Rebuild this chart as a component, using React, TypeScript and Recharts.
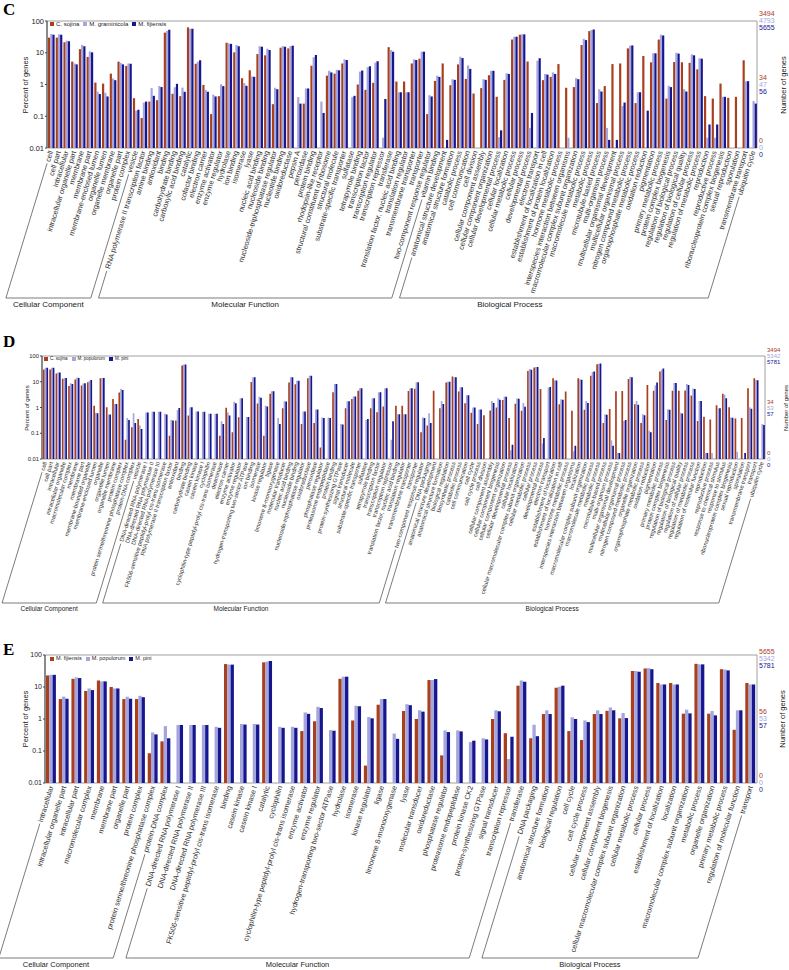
import { Bar, BarChart, ReferenceArea, XAxis, YAxis } from 'recharts';

const RED = '#A8401E';
const LAVENDER = '#A6A6DE';
const NAVY = '#16168F';
const SERIES_COLORS = [RED, LAVENDER, NAVY];
const LABEL_FONT = '"Liberation Sans", Arial, sans-serif';
const ANGLE = (73 * Math.PI) / 180;

const PERCENT_TICKS = [0.01, 0.1, 1, 10, 100];
const GROUP_NAMES = ['Cellular Component', 'Molecular Function', 'Biological Process'];

// ---- panel C ----
const C_SERIES = ['C. sojina', 'M. graminicola', 'M. fijiensis'];
const C_TOTALS = [3494, 4793, 5655];
const C_GROUP_SIZES = [12, 39, 41];
const C_CATEGORIES = [
  'cell', 'cell part', 'intracellular', 'intracellular organelle part', 'membrane', 'membrane part',
  'membrane-enclosed lumen', 'organelle lumen', 'organelle membrane', 'organelle part', 'protein complex', 'vesicle',
  'RNA polymerase II transcription factor', 'amine binding', 'antioxidant', 'binding', 'carbohydrate binding',
  'carboxylic acid binding', 'catalytic', 'cofactor binding', 'electron carrier', 'enzyme activator',
  'enzyme regulator', 'hydrolase', 'ion binding', 'isomerase', 'lyase', 'nucleic acid binding', 'nucleoside binding',
  'nucleoside-triphosphatase regulator', 'nucleotide binding', 'oxidoreductase', 'pepsin A', 'peroxidase',
  'protein binding', 'rhodopsin-like receptor', 'structural constituent of ribosome', 'structural molecule',
  'substrate-specific transporter', 'sulfatase', 'tetrapyrrole binding', 'transcription factor',
  'transcription regulator', 'transcription repressor', 'transferase', 'translation factor, nucleic acid binding',
  'translation regulator', 'transmembrane transporter', 'transporter', 'two-component response regulator',
  'vitamin binding',
  'anatomical structure development', 'anatomical structure formation', 'catabolic process', 'cell communication',
  'cell division', 'cellular component assembly', 'cellular component organization', 'cellular developmental process',
  'cellular localization', 'cellular metabolic process', 'cellular process', 'developmental process',
  'electron transport', 'establishment of localization in cell', 'establishment of protein localization',
  'hormone metabolic process', 'interspecies interaction between organisms',
  'macromolecular complex subunit organization', 'macromolecule metabolic process', 'metabolic process',
  'microtubule-based process', 'multi-organism process', 'multicellular organismal development',
  'multicellular organismal process', 'nitrogen compound metabolic process', 'organophosphate metabolic process',
  'oxidation reduction', 'pigmentation', 'primary metabolic process', 'protein complex biogenesis',
  'regulation of biological process', 'regulation of biological quality', 'regulation of cellular process',
  'regulation of metabolic process', 'reproduction', 'reproductive process', 'ribonucleoprotein complex biogenesis',
  'sexual reproduction', 'sporulation', 'transmembrane transport', 'ubiquitin cycle',
];
const C_SOJINA = [
  30, 30, 21.6, 5.25, 13, 7.4, 1.15, 1.07, 2.2, 5.25, 3.85, 0.37,
  0.088, 0.29, 0.32, 43, 0.51, 0.43, 63, 4.5, 0.97, 0.117, 0.43, 20.7, 10.3, 1.58, 2.8, 9.1, 8.3, 0.24,
  14.4, 13.7, 0, 0.25, 3.9, 0, 1.9, 2.2, 4.6, 0, 1.0, 0.68, 1.13, 0, 15, 1.24, 1.24, 4.6, 6.5, 0.117, 1.3,
  4.6, 0.95, 4.3, 1.5, 0.52, 0.77, 1.96, 0.41, 1.4, 26, 37, 5.3, 0, 1.37, 1.74, 4.4, 0.79, 0.83, 17.5, 48,
  0.26, 0.89, 4.4, 4.6, 13.7, 0.26, 7.9, 5, 26, 0.36, 5.1, 5, 4.8, 3, 0.43, 0.36, 1.07, 0.38, 0.41, 5.8, 0,
];
const C_GRAMINICOLA = [
  39, 38, 24, 4.6, 17.5, 11, 0.6, 0.55, 1.55, 4.8, 4.6, 0.15,
  0.27, 0.77, 0.9, 49, 0.82, 0.8, 57, 5.2, 0.68, 0.48, 1.02, 19.7, 17.5, 1.1, 1.8, 16, 13.4, 0.79,
  16.2, 16.2, 0.4, 0.75, 7.2, 0.29, 2.7, 2.9, 6.2, 0.4, 2.55, 3.5, 4.9, 0.021, 12.2, 0.57, 0.57, 6.2, 10.8, 0.46, 1.9,
  0, 1.47, 7.5, 4, 0, 1.47, 2.7, 0.022, 2.26, 32, 38, 0.043, 5.6, 2.15, 2.4, 0, 0.021, 1.58, 27.6, 52,
  0.71, 0.043, 0, 0.21, 16.7, 0.57, 0, 9.6, 37, 0.91, 10, 0.71, 8.9, 6.7, 0.021, 0.021, 0.41, 0, 0, 1.27, 0.3,
];
const C_FIJIENSIS = [
  37, 37, 23, 4.3, 16, 10.3, 0.5, 0.42, 1.37, 4.3, 4.5, 0.16,
  0.29, 0.44, 0.83, 53, 1.05, 0.59, 57, 5.8, 0.59, 0.42, 0.89, 19, 16, 0.91, 1.75, 15.5, 12.2, 0.71,
  15.5, 16.7, 0.25, 0.75, 8.5, 0.127, 2.4, 2.8, 5.9, 0.44, 2.75, 3.75, 5.4, 0.35, 10.8, 0.57, 0.57, 5.9, 10.8, 0.42, 1.74,
  0.018, 1.4, 6.8, 3.1, 0, 1.4, 2.7, 0.036, 2.16, 32, 38, 0.127, 6.7, 2.05, 2.15, 0, 0, 1.47, 25, 54,
  0.6, 0.018, 0.018, 0.27, 17, 0.57, 0.15, 9.6, 35, 0.83, 9.4, 0.6, 8.3, 6.5, 0.055, 0.055, 0.41, 0, 0, 1.27, 0.25,
];

// ---- panel D ----
const D_SERIES = ['C. sojina', 'M. populorum', 'M. pini'];
const D_TOTALS = [3494, 5342, 5781];
const D_GROUP_SIZES = [16, 45, 54];
const D_CATEGORIES = [
  'cell', 'cell part', 'intracellular', 'intracellular organelle', 'macromolecular complex', 'membrane',
  'membrane part', 'membrane-bounded organelle', 'membrane-enclosed lumen', 'organelle', 'organelle lumen',
  'organelle membrane', 'protein complex', 'protein serine/threonine phosphatase complex', 'protein-DNA complex',
  'vesicle',
  'DNA-directed RNA polymerase I', 'DNA-directed RNA polymerase II', 'DNA-directed RNA polymerase III',
  'FK506-sensitive peptidyl-prolyl cis-trans isomerase', 'RNA polymerase II transcription factor', 'antioxidant',
  'binding', 'carbohydrate binding', 'casein kinase', 'casein kinase I', 'cyclophilin',
  'cyclophilin-type peptidyl-prolyl cis-trans isomerase', 'deaminase', 'electron carrier', 'enzyme activator',
  'enzyme regulator', 'hydrogen-transporting two-sector ATPase', 'ion binding', 'isomerase', 'kinase regulator',
  'ligase', 'limonene 8-monooxygenase', 'molecular transducer', 'nucleic acid binding', 'nucleoside binding',
  'nucleoside-triphosphatase regulator', 'oxidoreductase', 'peroxidase', 'phosphatase regulator',
  'proteasome endopeptidase', 'protein binding', 'protein-synthesizing GTPase', 'signal transducer',
  'structural molecule', 'substrate-specific transporter', 'sulfatase', 'tetrapyrrole binding',
  'transcription factor', 'transcription regulator', 'transcription repressor',
  'translation factor, nucleic acid binding', 'translation regulator', 'transmembrane transporter', 'transporter',
  'two-component response regulator',
  'DNA packaging', 'anatomical structure development', 'anatomical structure formation', 'biological regulation',
  'biosynthetic process', 'catabolic process', 'cell communication', 'cell cycle', 'cell cycle process',
  'cell division', 'cellular component assembly', 'cellular component biogenesis', 'cellular component organization',
  'cellular developmental process', 'cellular localization', 'cellular macromolecular complex subunit organization',
  'cellular metabolic process', 'cellular process', 'developmental process', 'electron transport',
  'establishment of localization', 'establishment of localization in cell', 'hormone metabolic process',
  'interspecies interaction between organisms', 'localization', 'macromolecular complex subunit organization',
  'macromolecule metabolic process', 'metabolic process', 'microtubule-based process', 'multi-organism process',
  'multicellular organismal development', 'multicellular organismal process', 'nitrogen compound metabolic process',
  'organelle organization', 'organophosphate metabolic process', 'oxidation reduction', 'pigmentation',
  'primary metabolic process', 'protein complex biogenesis', 'regulation of biological process',
  'regulation of biological quality', 'regulation of cellular process', 'regulation of metabolic process',
  'regulation of molecular function', 'reproduction', 'reproductive process', 'response to chemical stimulus',
  'response to stimulus', 'ribonucleoprotein complex biogenesis', 'sexual reproduction', 'sporulation',
  'transmembrane transport', 'transport', 'ubiquitin cycle',
];
const D_SOJINA = [
  30, 30, 21, 13.2, 6.9, 12.1, 7.1, 9.6, 1.16, 13.6, 1.03, 2.16, 3.8, 0.056, 0.17, 0.36,
  0, 0, 0, 0, 0.08, 0.31, 43, 0.49, 0, 0, 0, 0, 0.08, 0.97, 0.11, 0.42, 0, 9.8, 1.43, 0.08,
  3.4, 0, 0.94, 9.3, 8, 0.23, 13.6, 0.25, 0.028, 0, 3.9, 0, 0.94, 2.16, 4.5, 0, 0.94, 0.66, 1.09, 0,
  1.16, 1.16, 4.4, 5.4, 0.11,
  0.2, 4.5, 0.94, 9.3, 16, 4.2, 1.47, 0.62, 0.23, 0.5, 0.76, 1.0, 1.96, 0.39, 1.4, 0.74, 26, 35.5, 5.2, 0,
  13.8, 1.35, 4.2, 0.74, 13.8, 0.81, 17, 48, 0.25, 0.87, 4.3, 4.4, 12.8, 1.35, 0.25, 7.5, 4.5, 25, 0.33, 4.5,
  4.5, 4.6, 2.9, 0.3, 0.44, 0.34, 1.23, 3.4, 1.03, 0.37, 0.39, 5.6, 13.6, 0,
];
const D_POPULORUM = [
  35, 35, 23, 14, 8.7, 14.5, 8.5, 11, 0.62, 14, 0.54, 1.38, 5.3, 0.39, 0.6, 0.2,
  0.64, 0.68, 0.68, 0.57, 0.33, 0.8, 47, 1.03, 0.7, 0.68, 0.57, 0.57, 0.29, 0.64, 1.66, 2.3, 0.43, 15, 2.6, 1.16,
  4.3, 0.39, 1.76, 15, 11, 0.7, 17, 0.84, 0.41, 0.41, 8.2, 0.23, 1.76, 2.7, 5.6, 0.33, 2.3, 3.9, 5.6, 0.056,
  0.55, 0.55, 5.6, 9.6, 0.41,
  0.6, 0, 1.8, 10, 15, 6.1, 3, 1.0, 0.84, 0, 1.8, 2.3, 2.7, 0.022, 2.3, 1.5, 31, 37, 0.04, 6,
  11.5, 2.1, 0, 0.02, 12.5, 1.8, 24, 50, 0.55, 0.053, 0.017, 0.3, 15.8, 1.8, 0.55, 0.125, 7.1, 29, 0.86, 9,
  0.62, 8.2, 5.5, 1.8, 0.017, 0.017, 0.94, 3.1, 0.41, 0.019, 0, 1.03, 11.8, 0.23,
];
const D_PINI = [
  35, 35, 23, 14, 8.2, 14, 8.7, 11.6, 0.6, 14, 0.54, 1.38, 4.8, 0.33, 0.25, 0.145,
  0.64, 0.68, 0.68, 0.54, 0.31, 0.95, 47, 1.03, 0.7, 0.68, 0.57, 0.57, 0.23, 0.49, 1.47, 2.3, 0.43, 15, 2.4, 1.09,
  4.3, 0.23, 1.7, 15, 11, 0.7, 17, 0.84, 0.39, 0.39, 8.2, 0.22, 1.76, 2.7, 5.6, 0.36, 2.3, 3.9, 5.6, 0.29,
  0.55, 0.55, 5.6, 9.6, 0.39,
  0.25, 0, 1.38, 10, 15, 6.1, 3, 1.0, 0.84, 0, 1.5, 2.0, 2.6, 0.036, 2.2, 1.07, 29, 37, 0.065, 6.3,
  11.2, 2, 0, 0.033, 12, 1.5, 25, 51, 0.52, 0.033, 0.017, 0.33, 15, 1.27, 0.5, 0.11, 9.3, 33, 0.81, 9,
  0.59, 7.5, 5.2, 1.8, 0.017, 0, 0.94, 2.3, 0.4, 0, 0.017, 0.89, 11.4, 0.21,
];

// ---- panel E ----
const E_SERIES = ['M. fijiensis', 'M. populorum', 'M. pini'];
const E_TOTALS = [5655, 5342, 5781];
const E_GROUP_SIZES = [10, 28, 18];
const E_CATEGORIES = [
  'intracellular', 'intracellular organelle part', 'intracellular part', 'macromolecular complex', 'membrane',
  'membrane part', 'organelle part', 'protein complex', 'protein serine/threonine phosphatase complex',
  'protein-DNA complex',
  'DNA-directed RNA polymerase I', 'DNA-directed RNA polymerase II', 'DNA-directed RNA polymerase III',
  'FK506-sensitive peptidyl-prolyl cis-trans isomerase', 'binding', 'casein kinase', 'casein kinase I', 'catalytic',
  'cyclophilin', 'cyclophilin-type peptidyl-prolyl cis-trans isomerase', 'enzyme activator', 'enzyme regulator',
  'hydrogen-transporting two-sector ATPase', 'hydrolase', 'isomerase', 'kinase regulator', 'ligase',
  'limonene 8-monooxygenase', 'lyase', 'molecular transducer', 'oxidoreductase', 'phosphatase regulator',
  'proteasome endopeptidase', 'protein kinase CK2', 'protein-synthesizing GTPase', 'signal transducer',
  'transcription repressor', 'transferase',
  'DNA packaging', 'anatomical structure formation', 'biological regulation', 'cell cycle', 'cell cycle process',
  'cellular component assembly', 'cellular component biogenesis',
  'cellular macromolecular complex subunit organization', 'cellular metabolic process', 'cellular process',
  'establishment of localization', 'localization', 'macromolecular complex subunit organization',
  'metabolic process', 'organelle organization', 'primary metabolic process', 'regulation of molecular function',
  'transport',
];
const E_FIJIENSIS = [
  23, 4.2, 18, 7.5, 16, 10, 4.2, 4.2, 0.085, 0.2,
  0, 0, 0, 0, 52, 0, 0, 59, 0, 0, 0.42, 0.85, 0, 18, 0.9, 0.035, 2.8, 0, 1.78, 1.0,
  16.5, 0.073, 0, 0, 0, 1.0, 0.36, 11,
  0.25, 1.43, 9.5, 0.42, 0.22, 1.43, 1.8, 1.05, 31.6, 38, 13.3, 13.3, 1.47, 53, 1.47, 36, 0.46, 13.3,
];
const E_POPULORUM = [
  24, 5, 20, 9, 15, 9, 5, 5.3, 0.38, 0.6,
  0.65, 0.65, 0.65, 0.57, 50, 0.7, 0.7, 62, 0.57, 0.57, 1.6, 2.4, 0.45, 21, 2.6, 1.15, 4.2, 0.35, 2.9, 1.87,
  16.5, 0.44, 0.44, 0.19, 0.25, 1.87, 0.056, 16,
  0.66, 1.87, 10.2, 1.13, 0.9, 1.87, 2.3, 1.54, 31.6, 39, 12, 12, 1.96, 51, 1.78, 35, 1.87, 12,
];
const E_PINI = [
  24, 4.3, 19, 8, 15, 9, 4.3, 4.8, 0.33, 0.25,
  0.65, 0.65, 0.65, 0.53, 50, 0.67, 0.67, 65, 0.53, 0.53, 1.45, 2.2, 0.43, 21, 2.5, 1.05, 4.2, 0.24, 2.7, 1.7,
  17.7, 0.39, 0.41, 0.21, 0.23, 1.74, 0.28, 14.6,
  0.29, 1.43, 11, 1.0, 0.8, 1.43, 1.87, 1.07, 30, 36, 12, 12, 1.5, 51, 1.3, 33, 1.87, 12,
];

type Layout = {
  top: number;
  height: number;
  plotLeft: number;
  plotRight: number;
  plotTop: number;
  plotBottom: number;
  bracketY: number;
  labelSize: number;
  barSize: number;
  axisFont: number;
  titleFont: number;
  groupFont: number;
  rightFont: number;
  legendFont: number;
  legendLeft: number;
  legendTop: number;
  leftTitleX: number;
  rightTitleX: number;
  letterTop: number;
  groupShift: number[];
  rightOffsets: Record<string, number[]>;
};

const C_LAYOUT: Layout = {
  top: 0, height: 318, plotLeft: 47, plotRight: 757, plotTop: 21, plotBottom: 148, bracketY: 298,
  labelSize: 7.3, barSize: 2.2, axisFont: 7.5, titleFont: 7.5, groupFont: 8, rightFont: 7,
  legendFont: 6, legendLeft: 50, legendTop: 21, leftTitleX: 25, rightTitleX: 783, letterTop: 1,
  groupShift: [0, 0, -44],
  rightOffsets: { '100': [-7, 0, 7], '1': [-7, 0, 7], '0.01': [-7, 0, 7] },
};
const D_LAYOUT: Layout = {
  top: 330, height: 290, plotLeft: 42, plotRight: 765, plotTop: 26, plotBottom: 129, bracketY: 273,
  labelSize: 5.8, barSize: 1.7, axisFont: 5.8, titleFont: 6, groupFont: 6.5, rightFont: 6,
  legendFont: 4.5, legendLeft: 44, legendTop: 27, leftTitleX: 27, rightTitleX: 786, letterTop: 3,
  groupShift: [0, 0, 0],
  rightOffsets: { '100': [-6, 0, 6], '1': [-6, 0, 6], '0.01': [-6, 0, 6] },
};
const E_LAYOUT: Layout = {
  top: 640, height: 330, plotLeft: 45, plotRight: 757, plotTop: 15, plotBottom: 143, bracketY: 318,
  labelSize: 7.3, barSize: 3.3, axisFont: 7, titleFont: 7.5, groupFont: 7.5, rightFont: 7,
  legendFont: 5.5, legendLeft: 50, legendTop: 16, leftTitleX: 25, rightTitleX: 782, letterTop: 1,
  groupShift: [0, 0, 0],
  rightOffsets: { '100': [-3, 4, 11], '1': [-7, 0, 7], '0.01': [-7, 0, 7] },
};

let measureCtx: CanvasRenderingContext2D | null = null;
const textWidth = (text: string, size: number) => {
  if (!measureCtx) measureCtx = document.createElement('canvas').getContext('2d');
  if (!measureCtx) return text.length * size * 0.5;
  measureCtx.font = `${size}px ${LABEL_FONT}`;
  return measureCtx.measureText(text).width;
};

interface GoPanelProps {
  letter: string;
  layout: Layout;
  categories: string[];
  groupSizes: number[];
  seriesNames: string[];
  totals: number[];
  values: number[][];
}

const GoPanel = ({ letter, layout, categories, groupSizes, seriesNames, totals, values }: GoPanelProps) => {
  const rows = categories.map((name, i) => ({
    name,
    s0: values[0][i] > 0 ? values[0][i] : null,
    s1: values[1][i] > 0 ? values[1][i] : null,
    s2: values[2][i] > 0 ? values[2][i] : null,
  }));
  const step = (layout.plotRight - layout.plotLeft) / categories.length;
  const starts: number[] = [];
  groupSizes.reduce((acc, size) => {
    starts.push(acc);
    return acc + size;
  }, 0);
  const y0 = layout.plotBottom + 3;
  const drop = layout.bracketY - y0;
  const cos = Math.cos(ANGLE);
  const sin = Math.sin(ANGLE);

  const labelStart = (x: number, label: string) => {
    const length = textWidth(label, layout.labelSize) + 2;
    return [x - length * cos, y0 + length * sin];
  };

  const renderXTick = (props: any) => {
    const { x, index, payload } = props;
    const label = String(payload.value);
    const group = starts.indexOf(index);
    let bracket = null;
    if (group >= 0) {
      const last = index + groupSizes[group] - 1;
      const xLast = x + (last - index) * step;
      const [sx, sy] = labelStart(x, label);
      const [ex, ey] = labelStart(xLast, categories[last]);
      const left = x - (drop * cos) / sin;
      const right = xLast - (drop * cos) / sin;
      bracket = (
        <g>
          <polyline
            points={`${sx},${sy} ${left},${layout.bracketY} ${right},${layout.bracketY} ${ex},${ey}`}
            fill="none"
            stroke="#444"
            strokeWidth={0.7}
          />
          <text
            x={(left + right) / 2 + layout.groupShift[group]}
            y={layout.bracketY + layout.groupFont + 1}
            textAnchor="middle"
            fontSize={layout.groupFont}
            fontFamily={LABEL_FONT}
            fill="#222"
          >
            {GROUP_NAMES[group]}
          </text>
        </g>
      );
    }
    return (
      <g>
        <text
          x={x}
          y={y0}
          dy="0.33em"
          transform={`rotate(-73 ${x} ${y0})`}
          textAnchor="end"
          fontSize={layout.labelSize}
          fontFamily={LABEL_FONT}
          fill="#333"
        >
          {label}
        </text>
        {bracket}
      </g>
    );
  };

  const renderYTick = (props: any) => {
    const { x, y, payload } = props;
    const value = payload.value as number;
    const offsets = layout.rightOffsets[String(value)];
    return (
      <g>
        <text x={x} y={y} dy="0.35em" textAnchor="end" fontSize={layout.axisFont} fontFamily={LABEL_FONT} fill="#222">
          {String(value)}
        </text>
        {offsets &&
          totals.map((total, k) => (
            <text
              key={k}
              x={layout.plotRight + 2}
              y={y + offsets[k]}
              dy="0.35em"
              fontSize={layout.rightFont}
              fontFamily={LABEL_FONT}
              fill={SERIES_COLORS[k]}
            >
              {Math.floor((total * value) / 100)}
            </text>
          ))}
      </g>
    );
  };

  const midY = (layout.plotTop + layout.plotBottom) / 2;

  return (
    <div style={{ position: 'absolute', left: 0, top: layout.top, width: 789, height: layout.height }}>
      <BarChart
        width={789}
        height={layout.height}
        data={rows}
        margin={{ top: layout.plotTop, right: 789 - layout.plotRight, left: 0, bottom: 0 }}
        barGap={0}
      >
        <XAxis
          dataKey="name"
          interval={0}
          height={layout.height - layout.plotBottom}
          tick={renderXTick}
          tickLine={false}
          axisLine={false}
        />
        <XAxis
          xAxisId="top"
          orientation="top"
          dataKey="name"
          interval={0}
          height={0}
          mirror
          tick={() => <g />}
          tickSize={2}
          axisLine={false}
          tickLine={{ stroke: '#555', strokeWidth: 0.7 }}
        />
        <YAxis
          scale="log"
          domain={[0.01, 100]}
          ticks={PERCENT_TICKS}
          allowDataOverflow
          width={layout.plotLeft}
          tick={renderYTick}
          tickSize={2}
          tickMargin={1}
          tickLine={{ stroke: '#444' }}
          axisLine={{ stroke: '#444' }}
        />
        <ReferenceArea y1={0.01} y2={100} fill="none" stroke="#888" strokeWidth={0.8} />
        <Bar dataKey="s0" fill={RED} barSize={layout.barSize} isAnimationActive={false} />
        <Bar dataKey="s1" fill={LAVENDER} barSize={layout.barSize} isAnimationActive={false} />
        <Bar dataKey="s2" fill={NAVY} barSize={layout.barSize} isAnimationActive={false} />
      </BarChart>

      <div
        style={{
          position: 'absolute',
          left: 3,
          top: layout.letterTop,
          font: 'bold 17px "Liberation Serif", "Times New Roman", serif',
          lineHeight: '17px',
        }}
      >
        {letter}
      </div>
      <div
        style={{
          position: 'absolute',
          left: layout.legendLeft,
          top: layout.legendTop,
          display: 'flex',
          gap: 4,
          alignItems: 'center',
          fontFamily: LABEL_FONT,
          fontSize: layout.legendFont,
          lineHeight: 1,
          color: '#222',
        }}
      >
        {seriesNames.map((name, k) => (
          <span key={name} style={{ display: 'flex', alignItems: 'center', gap: 2 }}>
            <span style={{ width: 4, height: 4, background: SERIES_COLORS[k], display: 'inline-block' }} />
            {name}
          </span>
        ))}
      </div>
      <div
        style={{
          position: 'absolute',
          left: layout.leftTitleX,
          top: midY,
          transform: 'translate(-50%, -50%) rotate(-90deg)',
          whiteSpace: 'nowrap',
          fontFamily: LABEL_FONT,
          fontSize: layout.titleFont,
          color: '#222',
        }}
      >
        Percent of genes
      </div>
      <div
        style={{
          position: 'absolute',
          left: layout.rightTitleX,
          top: midY,
          transform: 'translate(-50%, -50%) rotate(-90deg)',
          whiteSpace: 'nowrap',
          fontFamily: LABEL_FONT,
          fontSize: layout.titleFont,
          color: '#222',
        }}
      >
        Number of genes
      </div>
    </div>
  );
};

export default function App() {
  return (
    <div style={{ position: 'absolute', left: 0, top: 0, width: 789, height: 970, background: '#fff' }}>
      <GoPanel
        letter="C"
        layout={C_LAYOUT}
        categories={C_CATEGORIES}
        groupSizes={C_GROUP_SIZES}
        seriesNames={C_SERIES}
        totals={C_TOTALS}
        values={[C_SOJINA, C_GRAMINICOLA, C_FIJIENSIS]}
      />
      <GoPanel
        letter="D"
        layout={D_LAYOUT}
        categories={D_CATEGORIES}
        groupSizes={D_GROUP_SIZES}
        seriesNames={D_SERIES}
        totals={D_TOTALS}
        values={[D_SOJINA, D_POPULORUM, D_PINI]}
      />
      <GoPanel
        letter="E"
        layout={E_LAYOUT}
        categories={E_CATEGORIES}
        groupSizes={E_GROUP_SIZES}
        seriesNames={E_SERIES}
        totals={E_TOTALS}
        values={[E_FIJIENSIS, E_POPULORUM, E_PINI]}
      />
    </div>
  );
}
